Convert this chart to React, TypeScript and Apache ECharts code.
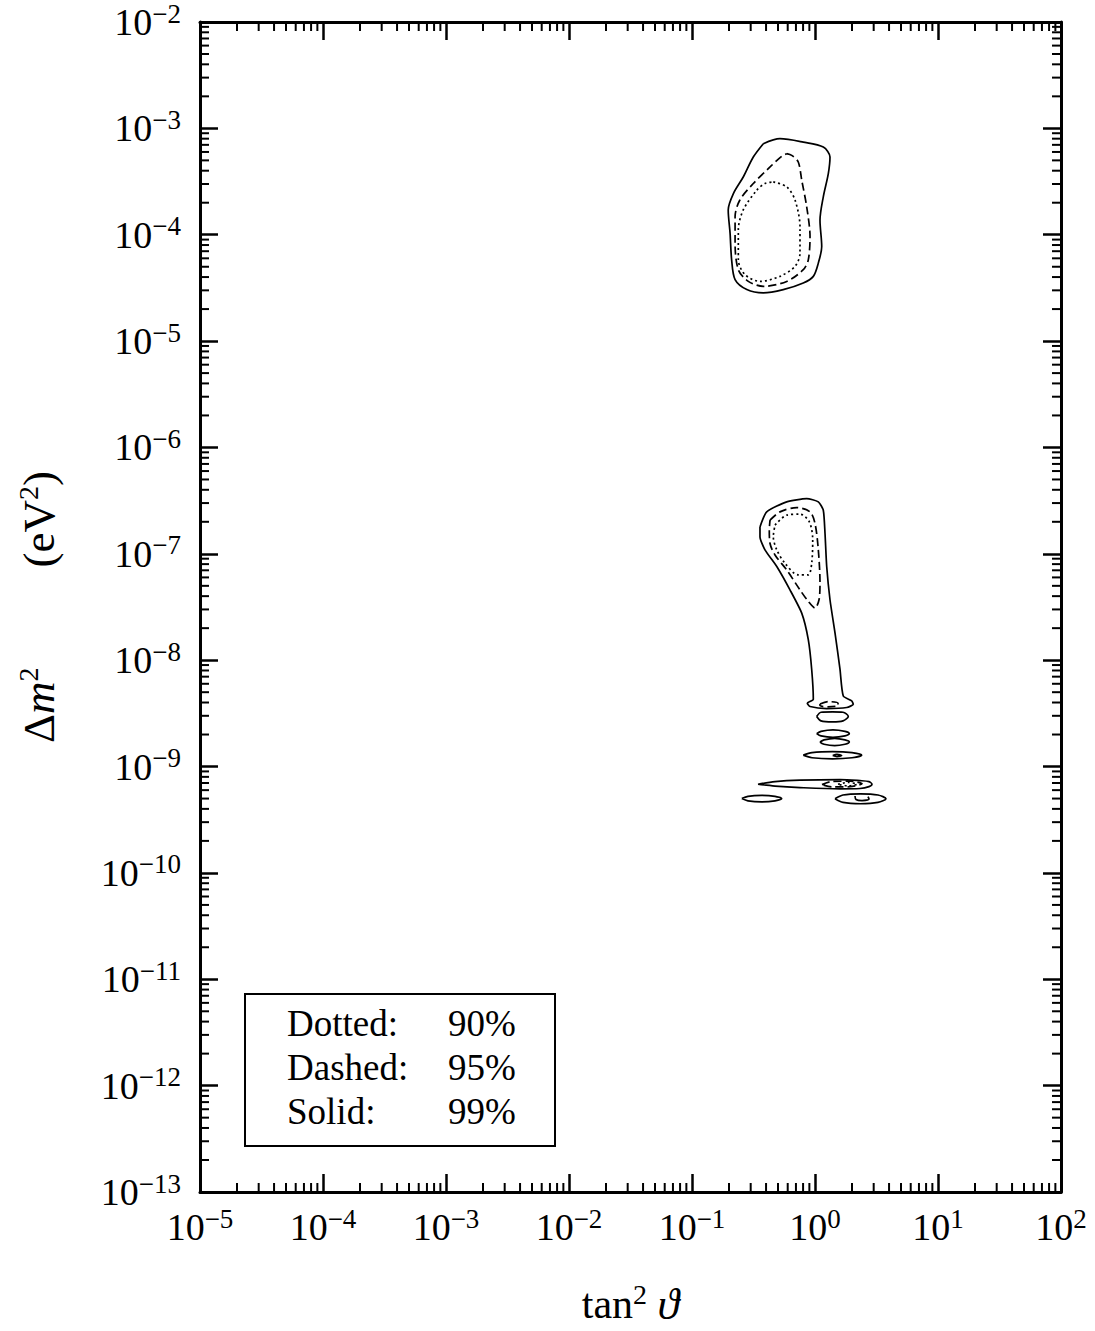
import React, { useEffect, useRef } from "react";
import * as echarts from "echarts";

type P = [number, number];

// axis ranges and tick structure
const xMin = 1e-5;
const xMax = 1e2;
const yMin = 1e-13;
const yMax = 1e-2;
const minorMultipliers = [2, 3, 4, 5, 6, 7, 8, 9];
const xDecades = [-5, -4, -3, -2, -1, 0, 1];
const yDecades = [-13, -12, -11, -10, -9, -8, -7, -6, -5, -4, -3];

// legend rows
const legendLabels = ["Dotted:", "Dashed:", "Solid:"];
const legendLevels = ["90%", "95%", "99%"];

// upper island (tan^2, dm^2)
const upper99: P[] = [[0.380, 7.18e-4], [0.519, 8.0e-4], [0.803, 7.43e-4], [1.168, 6.67e-4], [1.324, 5.38e-4], [1.283, 3.76e-4], [1.168, 2.27e-4], [1.098, 1.37e-4], [1.134, 7.75e-5], [1.064, 5.41e-5], [0.969, 4.06e-5], [0.803, 3.52e-5], [0.552, 3.05e-5], [0.380, 2.84e-5], [0.279, 3.05e-5], [0.224, 3.78e-5], [0.210, 5.81e-5], [0.204, 1.03e-4], [0.197, 1.71e-4], [0.217, 2.44e-4], [0.261, 3.49e-4], [0.315, 5.38e-4]];
const upper95: P[] = [[0.589, 5.78e-4], [0.647, 5.57e-4], [0.731, 4.83e-4], [0.780, 3.26e-4], [0.856, 1.83e-4], [0.911, 9.6e-5], [0.882, 5.81e-5], [0.803, 4.69e-5], [0.589, 3.64e-5], [0.380, 3.27e-5], [0.287, 3.64e-5], [0.238, 4.69e-5], [0.224, 8.3e-5], [0.224, 1.48e-4], [0.245, 2.12e-4], [0.315, 3.03e-4], [0.431, 4.34e-4], [0.536, 5.46e-4]];
const upper90: P[] = [[0.458, 3.14e-4], [0.589, 2.82e-4], [0.688, 2.12e-4], [0.755, 1.19e-4], [0.755, 6.71e-5], [0.688, 5.04e-5], [0.519, 4.06e-5], [0.357, 3.64e-5], [0.270, 4.21e-5], [0.238, 5.81e-5], [0.238, 1.11e-4], [0.261, 1.71e-4], [0.336, 2.62e-4], [0.392, 3.03e-4]];

// lower island
const lower99: P[] = [[0.357, 1.79e-7], [0.405, 2.48e-7], [0.589, 3.08e-7], [0.856, 3.30e-7], [1.064, 3.08e-7], [1.168, 2.57e-7], [1.206, 1.56e-7], [1.245, 7.59e-8], [1.324, 3.70e-8], [1.455, 1.80e-8], [1.597, 8.18e-9], [1.698, 4.61e-9], [1.988, 4.14e-9], [2.048, 3.85e-9], [1.811, 3.59e-9], [1.245, 3.51e-9], [0.911, 3.67e-9], [0.866, 3.94e-9], [0.969, 4.29e-9], [0.940, 8.18e-9], [0.882, 1.56e-8], [0.780, 2.77e-8], [0.626, 4.58e-8], [0.489, 7.59e-8], [0.392, 1.09e-7], [0.357, 1.45e-7]];
const lower95: P[] = [[0.431, 2.07e-7], [0.519, 2.48e-7], [0.710, 2.72e-7], [0.911, 2.48e-7], [1.0, 1.93e-7], [1.064, 1.09e-7], [1.098, 5.30e-8], [1.078, 3.70e-8], [1.0, 3.09e-8], [0.882, 3.57e-8], [0.755, 4.58e-8], [0.589, 7.05e-8], [0.473, 9.75e-8], [0.431, 1.25e-7], [0.425, 1.67e-7]];
const lower90: P[] = [[0.473, 1.86e-7], [0.589, 2.31e-7], [0.755, 2.36e-7], [0.899, 2.00e-7], [0.958, 1.35e-7], [0.940, 8.15e-8], [0.882, 6.34e-8], [0.731, 6.34e-8], [0.570, 8.15e-8], [0.489, 1.09e-7], [0.458, 1.45e-7]];
const funnelCore95: P[] = [[1.098, 3.87e-9], [1.275, 4.08e-9], [1.538, 3.95e-9], [1.538, 3.74e-9], [1.275, 3.64e-9], [1.098, 3.74e-9]];

// small islands near 1e-9
const isleA99: P[] = [[1.032, 2.96e-9], [1.119, 3.24e-9], [1.388, 3.27e-9], [1.689, 3.24e-9], [1.865, 2.96e-9], [1.689, 2.69e-9], [1.388, 2.63e-9], [1.119, 2.69e-9]];
const isleB99: P[] = [[1.032, 2.04e-9], [1.119, 2.14e-9], [1.400, 2.21e-9], [1.754, 2.14e-9], [1.901, 2.04e-9], [1.754, 1.94e-9], [1.400, 1.88e-9], [1.119, 1.94e-9]];
const isleC99: P[] = [[1.098, 1.70e-9], [1.184, 1.78e-9], [1.446, 1.84e-9], [1.754, 1.78e-9], [1.901, 1.70e-9], [1.754, 1.62e-9], [1.446, 1.57e-9], [1.184, 1.62e-9]];
const isleD99: P[] = [[0.803, 1.28e-9], [0.945, 1.35e-9], [1.388, 1.38e-9], [1.999, 1.35e-9], [2.397, 1.28e-9], [1.999, 1.21e-9], [1.388, 1.18e-9], [0.945, 1.21e-9]];
const isleDcore: P[] = [[1.393, 1.27e-9], [1.509, 1.30e-9], [1.648, 1.27e-9], [1.509, 1.24e-9]];
const isleE99: P[] = [[0.344, 6.82e-10], [0.473, 7.21e-10], [0.755, 7.45e-10], [1.597, 7.55e-10], [2.322, 7.37e-10], [2.748, 7.21e-10], [2.905, 6.82e-10], [2.748, 6.47e-10], [2.322, 6.22e-10], [1.597, 6.17e-10], [0.755, 6.34e-10], [0.473, 6.55e-10]];
const isleE95: P[] = [[1.140, 6.76e-10], [1.375, 7.24e-10], [1.927, 7.28e-10], [2.411, 6.90e-10], [1.927, 6.46e-10], [1.375, 6.43e-10]];
const isleE90: P[] = [[1.538, 6.82e-10], [1.854, 7.09e-10], [2.194, 6.82e-10], [1.854, 6.58e-10]];
const isleF99: P[] = [[0.254, 5.00e-10], [0.285, 5.25e-10], [0.369, 5.36e-10], [0.473, 5.25e-10], [0.536, 5.00e-10], [0.473, 4.76e-10], [0.369, 4.65e-10], [0.285, 4.76e-10]];
const isleG99: P[] = [[1.455, 4.98e-10], [1.689, 5.40e-10], [2.343, 5.54e-10], [3.251, 5.40e-10], [3.777, 4.98e-10], [3.251, 4.60e-10], [2.343, 4.47e-10], [1.689, 4.60e-10]];
const isleGcore: P[] = [[2.115, 5.28e-10], [2.154, 4.90e-10], [2.411, 4.79e-10], [2.748, 4.94e-10], [2.698, 5.21e-10]];

const SERIF = "Liberation Serif";
const DASHED = [8, 4];
const DOTTED = [2, 3];

type Contour = { name: string; pts: P[]; dash: number[] | "solid"; closed: boolean; smooth: number };
const contours: Contour[] = [
  { name: "upper99", pts: upper99, dash: "solid", closed: true, smooth: 0.3 },
  { name: "upper95", pts: upper95, dash: DASHED, closed: true, smooth: 0.3 },
  { name: "upper90", pts: upper90, dash: DOTTED, closed: true, smooth: 0.3 },
  { name: "lower99", pts: lower99, dash: "solid", closed: true, smooth: 0.2 },
  { name: "lower95", pts: lower95, dash: DASHED, closed: true, smooth: 0.3 },
  { name: "lower90", pts: lower90, dash: DOTTED, closed: true, smooth: 0.3 },
  { name: "funnelCore95", pts: funnelCore95, dash: DASHED, closed: true, smooth: 0.3 },
  { name: "isleA99", pts: isleA99, dash: "solid", closed: true, smooth: 0.3 },
  { name: "isleB99", pts: isleB99, dash: "solid", closed: true, smooth: 0.3 },
  { name: "isleC99", pts: isleC99, dash: "solid", closed: true, smooth: 0.3 },
  { name: "isleD99", pts: isleD99, dash: "solid", closed: true, smooth: 0.3 },
  { name: "isleDcore", pts: isleDcore, dash: "solid", closed: true, smooth: 0.3 },
  { name: "isleE99", pts: isleE99, dash: "solid", closed: true, smooth: 0.3 },
  { name: "isleE95", pts: isleE95, dash: DASHED, closed: true, smooth: 0.3 },
  { name: "isleE90", pts: isleE90, dash: DOTTED, closed: true, smooth: 0.3 },
  { name: "isleF99", pts: isleF99, dash: "solid", closed: true, smooth: 0.3 },
  { name: "isleG99", pts: isleG99, dash: "solid", closed: true, smooth: 0.3 },
  { name: "isleGcore", pts: isleGcore, dash: "solid", closed: false, smooth: 0.3 },
];

const xMinorTicks: number[] = [];
xDecades.forEach((d) => minorMultipliers.forEach((m) => xMinorTicks.push(m * Math.pow(10, d))));
const yMinorTicks: number[] = [];
yDecades.forEach((d) => minorMultipliers.forEach((m) => yMinorTicks.push(m * Math.pow(10, d))));

const powLabel = (v: number) => {
  const e = Math.round(Math.log10(v));
  return `{b|10}{s|${e < 0 ? "\u2212" + -e : e}}`;
};

const labelRich = {
  b: { fontFamily: SERIF, fontSize: 38, lineHeight: 44, color: "#000" },
  s: { fontFamily: SERIF, fontSize: 27, lineHeight: 30, color: "#000", verticalAlign: "top" },
};

const axisBase = (extra: any) => ({
  type: "log",
  logBase: 10,
  interval: 1,
  splitLine: { show: false },
  minorTick: { show: false },
  axisLine: { show: true, lineStyle: { color: "#000", width: 3 } },
  axisTick: { show: true, inside: true, length: 18, lineStyle: { color: "#000", width: 2.5 } },
  ...extra,
});

const GRID = { left: 200, top: 16, width: 861, height: 1176 };

function buildOption(): any {
  const lineSeries = contours.map((c) => ({
    type: "line",
    name: c.name,
    data: c.closed ? [...c.pts, c.pts[0]] : c.pts,
    smooth: c.smooth,
    symbol: "none",
    showSymbol: false,
    silent: true,
    xAxisIndex: 0,
    yAxisIndex: 0,
    lineStyle: { color: "#000", width: 1.7, type: c.dash, cap: "butt" },
    z: 3,
  }));

  const xMinor = {
    type: "custom",
    name: "xMinorTicks",
    silent: true,
    xAxisIndex: 0,
    yAxisIndex: 0,
    data: xMinorTicks.map((v) => [v, 1e-8]),
    renderItem: (params: any, api: any) => {
      const x = api.coord([api.value(0), 1e-8])[0];
      const cs = params.coordSys;
      const st = { stroke: "#000", lineWidth: 2 };
      return {
        type: "group",
        children: [
          { type: "line", shape: { x1: x, y1: cs.y + cs.height, x2: x, y2: cs.y + cs.height - 9 }, style: st },
          { type: "line", shape: { x1: x, y1: cs.y, x2: x, y2: cs.y + 9 }, style: st },
        ],
      };
    },
    z: 4,
  };
  const yMinor = {
    type: "custom",
    name: "yMinorTicks",
    silent: true,
    xAxisIndex: 0,
    yAxisIndex: 0,
    data: yMinorTicks.map((v) => [1, v]),
    renderItem: (params: any, api: any) => {
      const y = api.coord([1, api.value(1)])[1];
      const cs = params.coordSys;
      const st = { stroke: "#000", lineWidth: 2 };
      return {
        type: "group",
        children: [
          { type: "line", shape: { x1: cs.x, y1: y, x2: cs.x + 9, y2: y }, style: st },
          { type: "line", shape: { x1: cs.x + cs.width, y1: y, x2: cs.x + cs.width - 9, y2: y }, style: st },
        ],
      };
    },
    z: 4,
  };

  const legendX = 245, legendY = 994;
  const legendTexts: any[] = [];
  legendLabels.forEach((t, i) => {
    legendTexts.push({
      type: "text",
      x: 287,
      y: 1023 + i * 44,
      style: { text: t, fontFamily: SERIF, fontSize: 37, fill: "#000", verticalAlign: "middle", align: "left" },
    });
    legendTexts.push({
      type: "text",
      x: 448,
      y: 1023 + i * 44,
      style: { text: legendLevels[i], fontFamily: SERIF, fontSize: 37, fill: "#000", verticalAlign: "middle", align: "left" },
    });
  });

  return {
    animation: false,
    backgroundColor: "#fff",
    grid: { ...GRID, containLabel: false },
    xAxis: [
      axisBase({
        position: "bottom",
        min: xMin,
        max: xMax,
        axisLabel: { show: true, margin: 13, fontSize: 38, fontFamily: SERIF, color: "#000", formatter: powLabel, rich: labelRich },
        name: "{n|tan}{s|2}{n| }{i|\u03D1}",
        nameLocation: "middle",
        nameGap: 88,
        nameTextStyle: {
          rich: {
            n: { fontFamily: SERIF, fontSize: 42, lineHeight: 48, color: "#000" },
            s: { fontFamily: SERIF, fontSize: 28, lineHeight: 30, color: "#000", verticalAlign: "top" },
            i: { fontFamily: SERIF, fontSize: 44, lineHeight: 48, color: "#000", fontStyle: "italic" },
          },
        },
      }),
      axisBase({
        position: "top",
        min: xMin,
        max: xMax,
        axisLabel: { show: false },
      }),
    ],
    yAxis: [
      axisBase({
        position: "left",
        min: yMin,
        max: yMax,
        axisLabel: { show: true, margin: 19, fontSize: 38, fontFamily: SERIF, color: "#000", formatter: powLabel, rich: labelRich },
        name: "{d|\u0394}{m|m}{s|2}{g| }{d|(eV}{s|2}{d|)}",
        nameLocation: "middle",
        nameGap: 136,
        nameTextStyle: {
          rich: {
            d: { fontFamily: SERIF, fontSize: 45, lineHeight: 50, color: "#000" },
            m: { fontFamily: SERIF, fontSize: 45, lineHeight: 50, color: "#000", fontStyle: "italic" },
            s: { fontFamily: SERIF, fontSize: 28, lineHeight: 27, color: "#000", verticalAlign: "top" },
            g: { fontFamily: SERIF, fontSize: 45, lineHeight: 50, width: 100 },
          },
        },
      }),
      axisBase({
        position: "right",
        min: yMin,
        max: yMax,
        axisLabel: { show: false },
      }),
    ],
    series: [...lineSeries, xMinor, yMinor],
    graphic: [
      {
        type: "rect",
        shape: { x: legendX, y: legendY, width: 310, height: 152 },
        style: { fill: "#fff", stroke: "#000", lineWidth: 2 },
        z: 10,
      },
      ...legendTexts.map((t) => ({ ...t, z: 11 })),
    ],
  };
}

export default function App() {
  const ref = useRef<HTMLDivElement>(null);
  useEffect(() => {
    if (!ref.current) return;
    const chart = echarts.init(ref.current, null, { renderer: "svg" });
    chart.setOption(buildOption());
    return () => {
      chart.dispose();
    };
  }, []);
  return (
    <div
      ref={ref}
      style={{ position: "fixed", left: 0, top: 0, width: 1095, height: 1331, background: "#fff" }}
    />
  );
}
